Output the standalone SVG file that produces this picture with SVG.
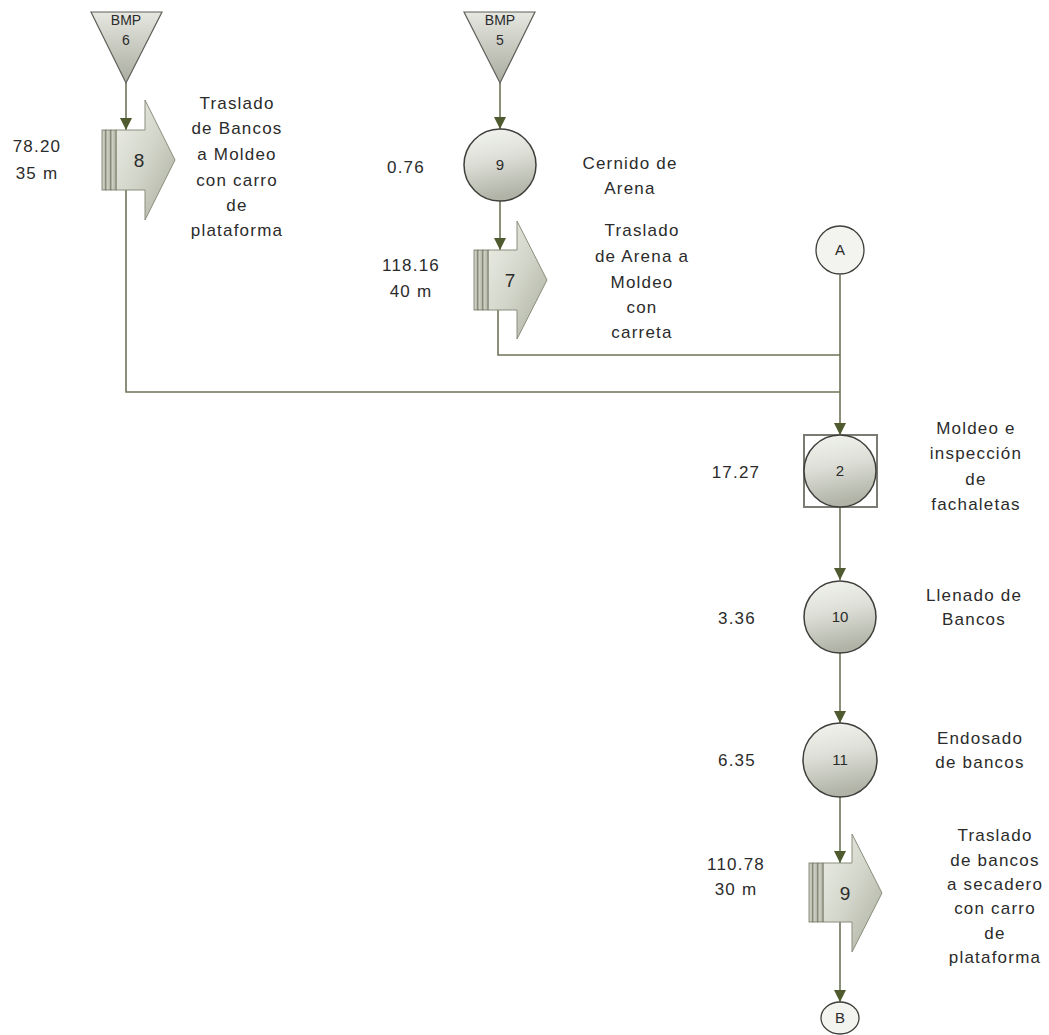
<svg xmlns="http://www.w3.org/2000/svg" width="1049" height="1035" viewBox="0 0 1049 1035">
<defs>
<linearGradient id="gShape" x1="0" y1="0" x2="0.2" y2="1">
<stop offset="0" stop-color="#f4f5f1"/>
<stop offset="0.5" stop-color="#dcded6"/>
<stop offset="1" stop-color="#b0b3a6"/>
</linearGradient>
<linearGradient id="gTri" x1="0" y1="0" x2="0" y2="1">
<stop offset="0" stop-color="#e6e7e0"/>
<stop offset="1" stop-color="#a9ac9f"/>
</linearGradient>
<linearGradient id="gArrow" x1="0" y1="0" x2="1" y2="1">
<stop offset="0" stop-color="#eef0e9"/>
<stop offset="0.5" stop-color="#d2d5c9"/>
<stop offset="1" stop-color="#a9ad9c"/>
</linearGradient>
<linearGradient id="gBar" x1="0" y1="0" x2="1" y2="0">
<stop offset="0" stop-color="#d8dbcf"/>
<stop offset="1" stop-color="#aeb1a1"/>
</linearGradient>
<marker id="ah" markerUnits="userSpaceOnUse" markerWidth="12" markerHeight="12" viewBox="0 0 12 12" refX="12" refY="6" orient="auto">
<path d="M0,0 L12,6 L0,12 Z" fill="#4f5b2e"/>
</marker>
<style>
.con{fill:none;stroke:#6d7458;stroke-width:1.6}
.circ{fill:url(#gShape);stroke:#3e3e3a;stroke-width:1.5}
.conn{fill:#f3f3f0;stroke:#3e3e3a;stroke-width:1.3}
.tri{fill:url(#gTri);stroke:#5e5f58;stroke-width:1.2}
.arr{fill:url(#gArrow);stroke:#8a8e7c;stroke-width:1}
.bar{fill:url(#gBar);stroke:#6f735f;stroke-width:0.8}
.sq{fill:none;stroke:#7a7b72;stroke-width:2}
.lbl{font-family:"Liberation Sans",Arial,sans-serif;font-size:17px;letter-spacing:1.2px;fill:#2b2b2b;text-anchor:middle}
.num{font-family:"Liberation Sans",Arial,sans-serif;font-size:15px;fill:#2b2b2b;text-anchor:middle}
.anum{font-family:"Liberation Sans",Arial,sans-serif;font-size:19px;fill:#2b2b2b;text-anchor:middle}
.bmp{font-family:"Liberation Sans",Arial,sans-serif;font-size:14px;fill:#2b2b2b;text-anchor:middle}
</style>
</defs>
<rect width="1049" height="1035" fill="#ffffff"/>

<g id="connectors">
<line class="con" x1="126" y1="83" x2="126" y2="130" marker-end="url(#ah)"/>
<polyline class="con" points="126,190 126,392 840,392"/>
<line class="con" x1="500" y1="83" x2="500" y2="129" marker-end="url(#ah)"/>
<line class="con" x1="500" y1="201" x2="500" y2="250" marker-end="url(#ah)"/>
<polyline class="con" points="498,310 498,355 840,355"/>
<line class="con" x1="840" y1="275" x2="840" y2="435" marker-end="url(#ah)"/>
<line class="con" x1="840" y1="507" x2="840" y2="580" marker-end="url(#ah)"/>
<line class="con" x1="840" y1="653" x2="840" y2="723" marker-end="url(#ah)"/>
<line class="con" x1="840" y1="797" x2="840" y2="863" marker-end="url(#ah)"/>
<line class="con" x1="840" y1="922" x2="840" y2="1002" marker-end="url(#ah)"/>
</g>

<g id="bmp6">
<polygon class="tri" points="91,12 162,12 126,83"/>
<text class="bmp" x="126" y="25">BMP</text>
<text class="bmp" x="126" y="45">6</text>
</g>

<g id="bmp5">
<polygon class="tri" points="464,12 535,12 500,83"/>
<text class="bmp" x="500" y="25">BMP</text>
<text class="bmp" x="500" y="45">5</text>
</g>

<g id="t8">
<polygon class="arr" points="116,130 145,130 145,100 175,160 145,220 145,190 116,190"/>
<rect class="bar" x="102" y="130" width="4" height="60"/>
<rect class="bar" x="106" y="130" width="5" height="60"/>
<rect class="bar" x="111" y="130" width="5" height="60"/>
<text class="anum" x="139" y="167">8</text>
<text class="lbl" x="37" y="152">78.20</text>
<text class="lbl" x="37" y="179">35 m</text>
<text class="lbl" x="237" y="109">Traslado</text>
<text class="lbl" x="237" y="134">de Bancos</text>
<text class="lbl" x="237" y="160">a Moldeo</text>
<text class="lbl" x="237" y="186">con carro</text>
<text class="lbl" x="237" y="211">de</text>
<text class="lbl" x="237" y="236">plataforma</text>
</g>

<g id="op9">
<circle class="circ" cx="500" cy="165" r="36"/>
<text class="num" x="500" y="170">9</text>
<text class="lbl" x="406" y="173">0.76</text>
<text class="lbl" x="630" y="169">Cernido de</text>
<text class="lbl" x="630" y="194">Arena</text>
</g>

<g id="t7">
<polygon class="arr" points="488,250 517,250 517,221 547,280 517,339 517,310 488,310"/>
<rect class="bar" x="474" y="250" width="4" height="60"/>
<rect class="bar" x="478" y="250" width="5" height="60"/>
<rect class="bar" x="483" y="250" width="5" height="60"/>
<text class="anum" x="510" y="287">7</text>
<text class="lbl" x="411" y="271">118.16</text>
<text class="lbl" x="411" y="297">40 m</text>
<text class="lbl" x="642" y="236">Traslado</text>
<text class="lbl" x="642" y="262">de Arena a</text>
<text class="lbl" x="642" y="288">Moldeo</text>
<text class="lbl" x="642" y="313">con</text>
<text class="lbl" x="642" y="338">carreta</text>
</g>

<g id="connA">
<circle class="conn" cx="840" cy="250" r="24"/>
<text class="num" x="840" y="255">A</text>
</g>

<g id="op2">
<rect class="sq" x="804" y="435" width="73" height="72"/>
<circle class="circ" cx="840" cy="471" r="36"/>
<text class="num" x="840" y="476">2</text>
<text class="lbl" x="736" y="478">17.27</text>
<text class="lbl" x="976" y="434">Moldeo e</text>
<text class="lbl" x="976" y="459">inspección</text>
<text class="lbl" x="976" y="485">de</text>
<text class="lbl" x="976" y="510">fachaletas</text>
</g>

<g id="op10">
<circle class="circ" cx="840" cy="617" r="36"/>
<text class="num" x="840" y="622">10</text>
<text class="lbl" x="737" y="624">3.36</text>
<text class="lbl" x="974" y="601">Llenado de</text>
<text class="lbl" x="974" y="625">Bancos</text>
</g>

<g id="op11">
<circle class="circ" cx="840" cy="760" r="37"/>
<text class="num" x="840" y="765">11</text>
<text class="lbl" x="737" y="766">6.35</text>
<text class="lbl" x="980" y="744">Endosado</text>
<text class="lbl" x="980" y="768">de bancos</text>
</g>

<g id="t9">
<polygon class="arr" points="823,863 852,863 852,834 882,893 852,952 852,922 823,922"/>
<rect class="bar" x="809" y="863" width="4" height="59"/>
<rect class="bar" x="813" y="863" width="5" height="59"/>
<rect class="bar" x="818" y="863" width="5" height="59"/>
<text class="anum" x="845" y="900">9</text>
<text class="lbl" x="736" y="870">110.78</text>
<text class="lbl" x="736" y="895">30 m</text>
<text class="lbl" x="995" y="841">Traslado</text>
<text class="lbl" x="995" y="866">de bancos</text>
<text class="lbl" x="995" y="890">a secadero</text>
<text class="lbl" x="995" y="914">con carro</text>
<text class="lbl" x="995" y="939">de</text>
<text class="lbl" x="995" y="963">plataforma</text>
</g>

<g id="connB">
<ellipse class="conn" cx="840" cy="1018" rx="19" ry="16"/>
<text class="num" x="840" y="1023">B</text>
</g>
</svg>
